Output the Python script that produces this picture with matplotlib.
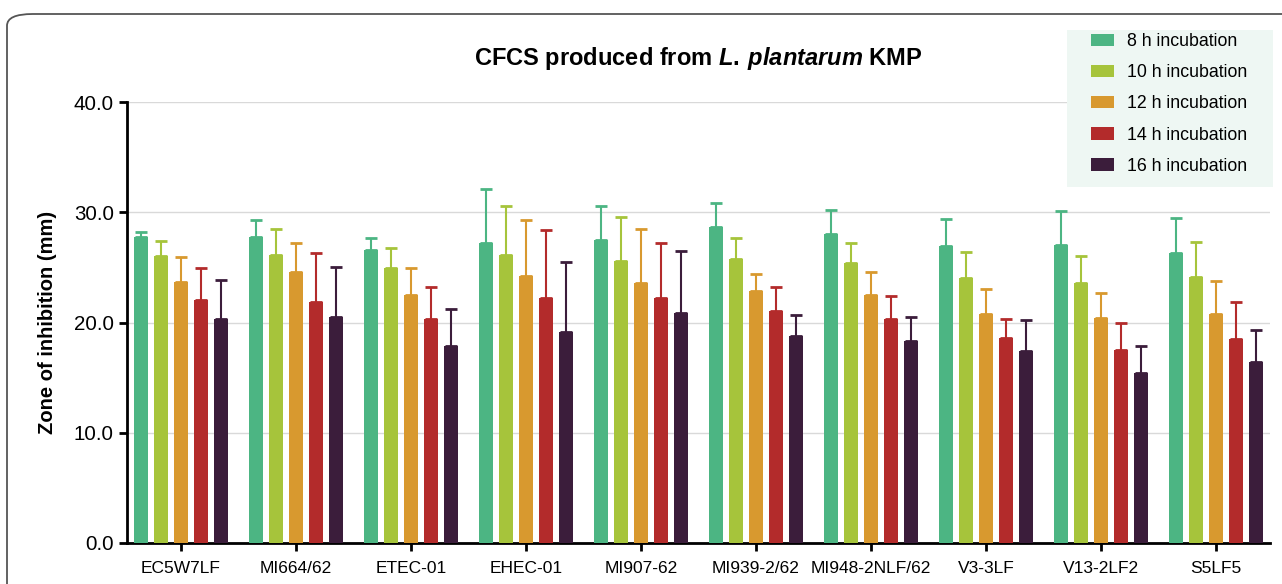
import numpy as np
import matplotlib
matplotlib.use('Agg')
import matplotlib.pyplot as plt
from matplotlib.patches import FancyBboxPatch, Rectangle

plt.rcParams['font.family'] = ['Liberation Sans', 'DejaVu Sans']
plt.rcParams['mathtext.fontset'] = 'custom'
plt.rcParams['mathtext.it'] = 'Liberation Sans:italic:bold'
plt.rcParams['mathtext.rm'] = 'Liberation Sans:bold'

strains = ['EC5W7LF', 'MI664/62', 'ETEC-01', 'EHEC-01', 'MI907-62',
           'MI939-2/62', 'MI948-2NLF/62', 'V3-3LF', 'V13-2LF2', 'S5LF5']
series = ['8 h incubation', '10 h incubation', '12 h incubation',
          '14 h incubation', '16 h incubation']
colors = ['#4cb583', '#a6c43b', '#d8992f', '#b32b2b', '#3b1d3b']

# mean zone of inhibition (mm), one list per incubation time
h8 = [27.8, 27.8, 26.6, 27.2, 27.5, 28.7, 28.0, 26.9, 27.0, 26.3]
h10 = [26.0, 26.1, 24.9, 26.1, 25.6, 25.8, 25.4, 24.0, 23.6, 24.1]
h12 = [23.7, 24.6, 22.5, 24.2, 23.6, 22.9, 22.5, 20.8, 20.4, 20.8]
h14 = [22.0, 21.9, 20.3, 22.2, 22.2, 21.0, 20.3, 18.6, 17.5, 18.5]
h16 = [20.3, 20.5, 17.9, 19.1, 20.9, 18.8, 18.3, 17.4, 15.4, 16.4]

# standard deviations (upper bars only)
sd8 = [0.4, 1.5, 1.1, 4.9, 3.1, 2.1, 2.2, 2.5, 3.1, 3.2]
sd10 = [1.4, 2.4, 1.9, 4.5, 4.0, 1.9, 1.8, 2.4, 2.4, 3.2]
sd12 = [2.2, 2.6, 2.4, 5.1, 4.9, 1.5, 2.1, 2.2, 2.3, 3.0]
sd14 = [2.9, 4.4, 2.9, 6.2, 5.0, 2.2, 2.1, 1.7, 2.5, 3.4]
sd16 = [3.6, 4.5, 3.3, 6.4, 5.6, 1.9, 2.2, 2.8, 2.5, 2.9]

means = [h8, h10, h12, h14, h16]
sds = [sd8, sd10, sd12, sd14, sd16]

W, H = 1282, 584
fig = plt.figure(figsize=(W / 100, H / 100), dpi=100)

# card outline around the figure
card = FancyBboxPatch((7 / W, -0.05), 1.2, 1 - 14 / H + 0.05,
                      boxstyle='round,pad=0,rounding_size=0.02',
                      transform=fig.transFigure, fill=False,
                      edgecolor='#555555', linewidth=1.3, zorder=0)
fig.patches.append(card)

ax = fig.add_axes([127 / W, 1 - 543 / H, (1270 - 127) / W, (543 - 102) / H])

# legend background panel, drawn above the grid
ax.add_patch(Rectangle((1067 / W, 1 - 187 / H), 206 / W, 157 / H,
                       transform=fig.transFigure, facecolor='#eef7f3',
                       edgecolor='none', zorder=5, clip_on=False))

x = np.arange(len(strains))
step = 0.175
width = 0.125
for i, (m, s) in enumerate(zip(means, sds)):
    pos = x + (i - 2) * step
    ax.bar(pos, m, width=width, color=colors[i], label=series[i], zorder=3)
    ax.errorbar(pos, m, yerr=[np.zeros(len(s)), s], fmt='none',
                ecolor=colors[i], elinewidth=1.5, capsize=4, capthick=2,
                zorder=2)

ax.set_xlim(-0.47, 9.47)
ax.set_ylim(0, 40)
ax.set_yticks([0, 10, 20, 30, 40])
ax.set_yticklabels(['0.0', '10.0', '20.0', '30.0', '40.0'], fontsize=14.8)
ax.set_xticks(x)
ax.set_xticklabels(strains, fontsize=12.5)
ax.yaxis.grid(True, color='#d9d9d9', linewidth=1)
ax.set_axisbelow(True)
for side in ['top', 'right']:
    ax.spines[side].set_visible(False)
for side in ['left', 'bottom']:
    ax.spines[side].set_linewidth(2)
ax.tick_params(axis='both', width=2, length=6, direction='out')
ax.tick_params(axis='x', pad=7)
ax.set_ylabel('Zone of inhibition (mm)', fontsize=14.5, fontweight='bold',
              labelpad=12)

fig.text(698 / W, 1 - 58 / H,
         r'CFCS produced from $\mathit{L.\:plantarum}$ KMP',
         ha='center', va='center', fontsize=17, fontweight='bold')

handles, labels = ax.get_legend_handles_labels()
fig.legend(handles, labels, loc='upper left',
           bbox_to_anchor=(1091 / W, 1 - 33 / H),
           frameon=False, fontsize=12.8, handlelength=1.3,
           handleheight=0.7, labelspacing=0.8, borderpad=0,
           handletextpad=0.75, borderaxespad=0)

fig.savefig('out.png', dpi=100)
